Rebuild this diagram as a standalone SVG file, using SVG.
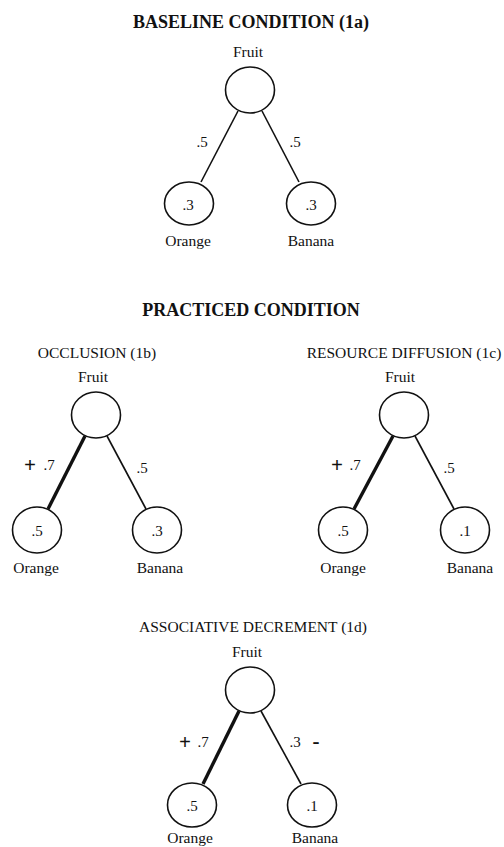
<svg xmlns="http://www.w3.org/2000/svg" width="504" height="847" viewBox="0 0 504 847">
<style>
text{font-family:"Liberation Serif","Times New Roman",serif;fill:#111;text-anchor:middle}
.h{font-size:18px;font-weight:bold}
.s{font-size:15.5px}
.n{font-size:15px}
.p{font-size:21px;font-weight:bold}
ellipse{fill:#fff;stroke:#111;stroke-width:1.6}
.thin{stroke:#111;stroke-width:1.6;fill:none}
.thick{stroke:#111;stroke-width:3.4;fill:none}
</style>
<rect width="504" height="847" fill="#fff"/>
<text class="h" x="251" y="28">BASELINE CONDITION (1a)</text>
<text class="h" x="251" y="316">PRACTICED CONDITION</text>
<text class="s" x="97" y="358">OCCLUSION (1b)</text>
<text class="s" x="404" y="358">RESOURCE DIFFUSION (1c)</text>
<text class="s" x="253" y="632">ASSOCIATIVE DECREMENT (1d)</text>
<g id="connectors">
<line class="thin" x1="238" y1="111" x2="201" y2="182"/>
<line class="thin" x1="262" y1="111" x2="299" y2="182"/>
<line class="thick" x1="85" y1="436" x2="48" y2="509"/>
<line class="thin" x1="107" y1="436" x2="146" y2="509"/>
<line class="thick" x1="393" y1="436" x2="354" y2="509"/>
<line class="thin" x1="415" y1="436" x2="454" y2="509"/>
<line class="thick" x1="239" y1="711" x2="203" y2="784"/>
<line class="thin" x1="261" y1="711" x2="301" y2="784"/>
<text class="n" x="202" y="147">.5</text>
<text class="n" x="295" y="147">.5</text>
<text class="p" x="30" y="472">+</text>
<text class="n" x="49" y="470">.7</text>
<text class="n" x="142" y="473">.5</text>
<text class="p" x="337" y="472">+</text>
<text class="n" x="355" y="470">.7</text>
<text class="n" x="449" y="473">.5</text>
<text class="p" x="185" y="749">+</text>
<text class="n" x="203" y="747">.7</text>
<text class="n" x="295" y="747">.3</text>
<text class="p" x="316" y="748">-</text>
</g>
<g id="a-fruit"><text class="s" x="248" y="57">Fruit</text><ellipse cx="250" cy="90" rx="24.5" ry="23"/></g>
<g id="a-orange"><ellipse cx="189" cy="203.5" rx="24.5" ry="21.5"/><text class="n" x="188" y="210">.3</text><text class="s" x="188" y="246">Orange</text></g>
<g id="a-banana"><ellipse cx="311" cy="203.5" rx="24.5" ry="21.5"/><text class="n" x="311" y="210">.3</text><text class="s" x="311" y="246">Banana</text></g>
<g id="b-fruit"><text class="s" x="93" y="382">Fruit</text><ellipse cx="96" cy="415" rx="24.5" ry="23"/></g>
<g id="b-orange"><ellipse cx="37" cy="530" rx="24.5" ry="23"/><text class="n" x="37" y="536">.5</text><text class="s" x="36" y="573">Orange</text></g>
<g id="b-banana"><ellipse cx="157" cy="530" rx="24.5" ry="23"/><text class="n" x="157" y="536">.3</text><text class="s" x="160" y="573">Banana</text></g>
<g id="c-fruit"><text class="s" x="400" y="382">Fruit</text><ellipse cx="404" cy="415" rx="24.5" ry="23"/></g>
<g id="c-orange"><ellipse cx="343" cy="530" rx="24.5" ry="23"/><text class="n" x="343" y="536">.5</text><text class="s" x="343" y="573">Orange</text></g>
<g id="c-banana"><ellipse cx="465" cy="530" rx="24.5" ry="23"/><text class="n" x="465" y="536">.1</text><text class="s" x="470" y="573">Banana</text></g>
<g id="d-fruit"><text class="s" x="247" y="657">Fruit</text><ellipse cx="250" cy="690" rx="24.5" ry="23"/></g>
<g id="d-orange"><ellipse cx="192" cy="805" rx="24.5" ry="22"/><text class="n" x="192" y="811">.5</text><text class="s" x="190" y="843">Orange</text></g>
<g id="d-banana"><ellipse cx="312" cy="805" rx="24.5" ry="22"/><text class="n" x="312" y="811">.1</text><text class="s" x="315" y="843">Banana</text></g>
</svg>
